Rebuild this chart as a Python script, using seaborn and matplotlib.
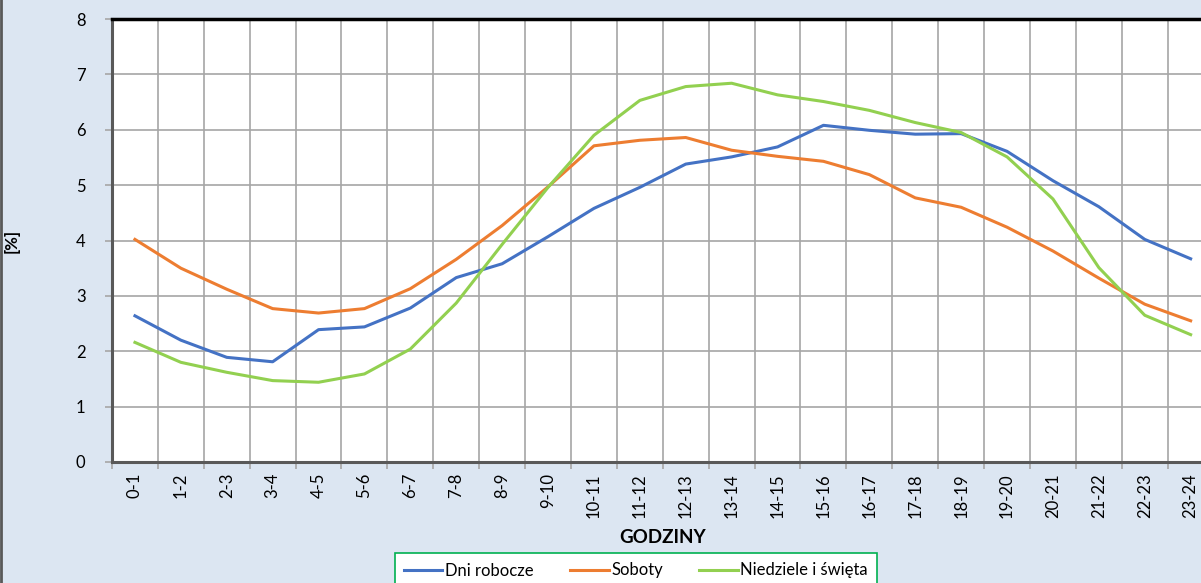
import pandas as pd
import matplotlib.pyplot as plt
import seaborn as sns
from matplotlib.lines import Line2D

# Dane: udział godzinowy [%]
godziny = ['0-1', '1-2', '2-3', '3-4', '4-5', '5-6', '6-7', '7-8', '8-9', '9-10',
           '10-11', '11-12', '12-13', '13-14', '14-15', '15-16', '16-17', '17-18',
           '18-19', '19-20', '20-21', '21-22', '22-23', '23-24']
dni_robocze = [2.64, 2.20, 1.89, 1.81, 2.39, 2.44, 2.78, 3.33, 3.58, 4.07, 4.58, 4.96,
               5.38, 5.51, 5.69, 6.08, 5.99, 5.92, 5.93, 5.61, 5.08, 4.61, 4.02, 3.67]
soboty = [4.02, 3.50, 3.12, 2.77, 2.69, 2.77, 3.13, 3.66, 4.27, 4.97, 5.71, 5.81,
          5.86, 5.63, 5.52, 5.43, 5.19, 4.77, 4.60, 4.24, 3.81, 3.32, 2.85, 2.55]
niedziele = [2.16, 1.80, 1.62, 1.47, 1.44, 1.59, 2.04, 2.87, 3.93, 4.96, 5.90, 6.53,
             6.78, 6.84, 6.63, 6.51, 6.35, 6.13, 5.95, 5.51, 4.75, 3.51, 2.65, 2.30]
serie = ['Dni robocze', 'Soboty', 'Niedziele i święta']
kolory = ['#4472c4', '#ed7d31', '#92d050']

df = pd.DataFrame({
    'godzina': godziny * 3,
    'wartosc': dni_robocze + soboty + niedziele,
    'seria': [serie[0]] * 24 + [serie[1]] * 24 + [serie[2]] * 24,
})

plt.rcParams['font.family'] = ['Lato', 'DejaVu Sans']
tlo = '#dce6f2'

fig = plt.figure(figsize=(12.01, 5.83), dpi=100, facecolor=tlo)
ax = fig.add_axes([112 / 1201, 121 / 583, 1101.6 / 1201, 443 / 583])
ax.set_facecolor('white')

sns.lineplot(data=df, x='godzina', y='wartosc', hue='seria', palette=kolory,
             linewidth=2.2, sort=False, ax=ax, legend=False)

ax.set_xlim(-0.5, 23.5)
ax.set_ylim(0, 8)
ax.set_yticks(range(0, 9))
ax.set_xticks(range(24))
ax.set_xticklabels(godziny, rotation=90)
ax.set_xticks([i - 0.5 for i in range(25)], minor=True)

ax.grid(False)
ax.grid(axis='y', which='major', color='#a6a6a6', linewidth=1.2)
ax.grid(axis='x', which='minor', color='#a6a6a6', linewidth=1.2)
ax.set_axisbelow(True)

ax.tick_params(axis='x', which='major', length=0, labelsize=12, pad=8, colors='black')
ax.tick_params(axis='x', which='minor', length=5, color='#a6a6a6', width=1.2)
ax.tick_params(axis='y', which='major', length=5, color='#a6a6a6', width=1.2,
               labelsize=12, pad=14)

for s in ['left', 'bottom']:
    ax.spines[s].set_color('#595959')
    ax.spines[s].set_linewidth(2.2)
ax.spines['top'].set_color('black')
ax.spines['top'].set_linewidth(2.5)
ax.spines['right'].set_visible(False)

ax.set_xlabel('GODZINY', fontsize=13.5, fontweight='bold', labelpad=8)
ax.set_ylabel('[%]', fontsize=12, fontweight='bold')
ax.yaxis.set_label_coords(-92 / 1101.6, 0.5)

uchwyty = [Line2D([0], [0], color=c, linewidth=2.2) for c in kolory]
leg = fig.legend(uchwyty, serie, loc='upper center', bbox_to_anchor=(636 / 1201, 38 / 583),
                 ncol=3, frameon=True, fancybox=False, fontsize=12, handlelength=2.3,
                 handletextpad=0.15, columnspacing=2.2, borderpad=0.55)
leg.get_frame().set_edgecolor('#00b050')
leg.get_frame().set_linewidth(1.2)
leg.get_frame().set_facecolor('white')
leg.get_frame().set_alpha(1)

fig.add_artist(Line2D([0.001, 0.001], [0, 1], color='#595959', linewidth=2,
                      transform=fig.transFigure))

plt.savefig('out.png', dpi=100, facecolor=tlo)
plt.close()
